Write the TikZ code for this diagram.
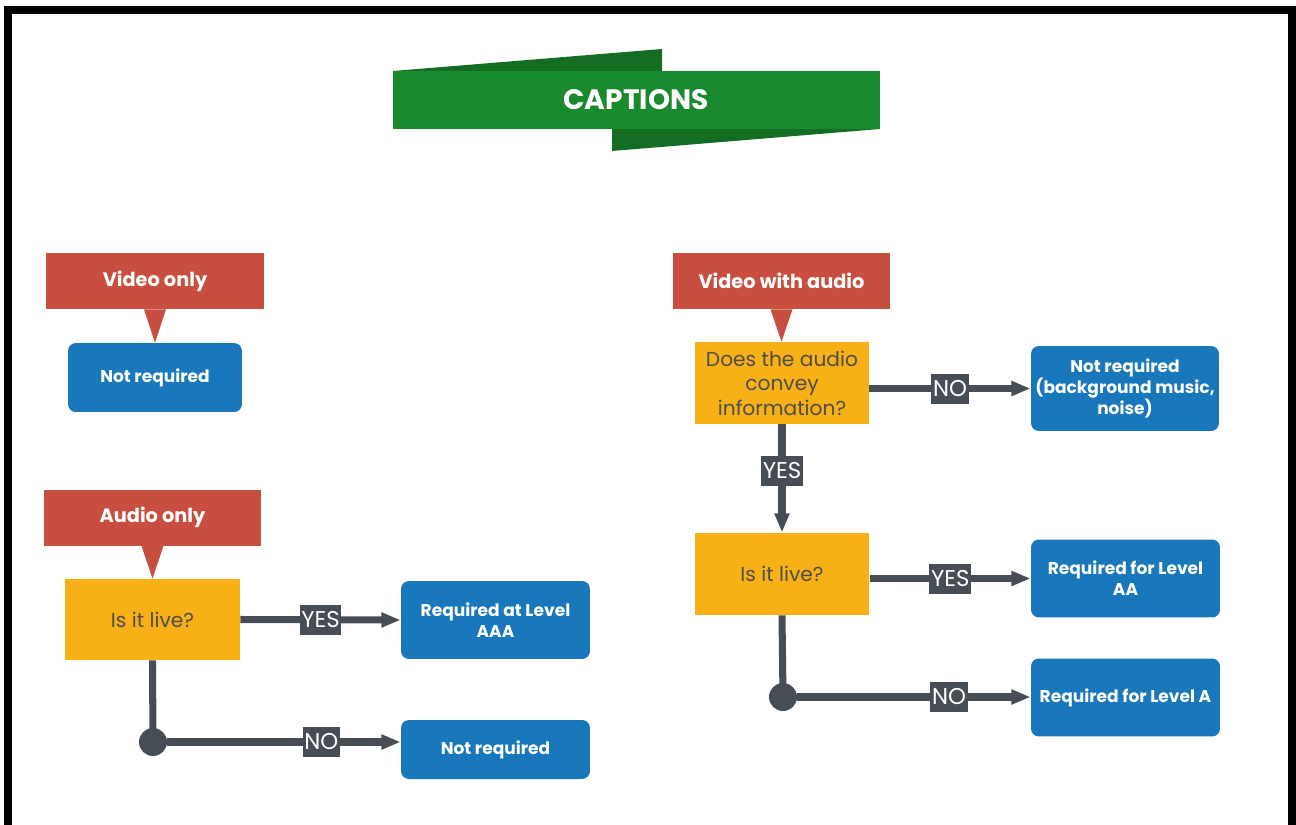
\documentclass[tikz,border=0pt]{standalone}
\usepackage{fontspec}
\setmainfont{Poppins}
\usetikzlibrary{arrows.meta}
\usetikzlibrary{positioning}

\definecolor{bannergreen}{HTML}{1A8A2E}
\definecolor{bannerdark}{HTML}{156D24}
\definecolor{labelred}{HTML}{C84F40}
\definecolor{askyellow}{HTML}{F7B016}
\definecolor{asktext}{HTML}{4D4D4D}
\definecolor{answerblue}{HTML}{1878BB}
\definecolor{flowgray}{HTML}{474D54}

\tikzset{
  redlabel/.style={fill=labelred, text=white, font=\bfseries\fontsize{11}{12}\selectfont,
    minimum width=4.36cm, minimum height=1.12cm, inner sep=0pt},
  question/.style={fill=askyellow, text=asktext, font=\fontsize{11.5}{14}\selectfont,
    align=center, inner sep=0pt},
  answer/.style={fill=answerblue, text=white, rounded corners=4.5pt,
    font=\bfseries\fontsize{9.7}{12}\selectfont, align=center, inner sep=0pt},
  trunk/.style={draw=flowgray, line width=4pt},
  flow/.style={trunk, -{Triangle[length=11pt, width=8pt]}},
  tag/.style={fill=flowgray, text=white, font=\fontsize{13}{14}\selectfont,
    inner xsep=1pt, inner ysep=0pt, minimum height=0.6cm},
  joint/.style={circle, fill=flowgray, minimum size=0.56cm, inner sep=0pt}
}

\begin{document}
\begin{tikzpicture}[x=0.02cm, y=-0.02cm]
    \useasboundingbox (0,0) rectangle (1296,825);
    % black frame, open at the bottom
    \draw[line width=4.5pt] (8,10) rectangle (1292,900);

    % title banner
    \fill[bannerdark] (393,71) -- (662,49) -- (662,71) -- cycle;
    \fill[bannerdark] (612,129) -- (612,151) -- (880,129) -- cycle;
    \fill[bannergreen] (393,71) rectangle (880,129);
    \node[text=white, font=\bfseries\fontsize{16}{18}\selectfont] (title) at (636,100) {CAPTIONS};

    % Video only
    \node[redlabel] (vo) at (155,281) {Video only};
    \node[answer, minimum width=3.48cm, minimum height=1.38cm] (vonr) at (155,377.5) {Not required};
    \fill[labelred] (vo.south) ++(-11,0) -- ++(22,0) -- (vo.south |- vonr.north) -- cycle;

    % Audio only
    \node[redlabel] (ao) at (152.5,517.5) {Audio only};
    \node[question, minimum width=3.5cm, minimum height=1.62cm] (aolive) at (152.5,619.5) {Is it live?};
    \fill[labelred] (ao.south) ++(-11,0) -- ++(22,0) -- (ao.south |- aolive.north) -- cycle;
    \node[answer, minimum width=3.78cm, minimum height=1.56cm] (aoyes) at (495.5,620) {Required at Level\\AAA};
    \node[answer, minimum width=3.78cm, minimum height=1.18cm] (aono) at (495.5,749.5) {Not required};
    \node[joint] (aodot) at (153,742) {};
    % yes / no branches
    \draw[flow] (aolive.east) -- (aoyes.west) node[midway, tag] {YES};
    \draw[trunk] (aolive.south) -- (aodot.center);
    \draw[flow] (aodot) -- (aono.west |- aodot) node[pos=0.66, tag] {NO};

    % Video with audio
    \node[redlabel] (va) at (781.5,281) {Video with audio};
    \node[question, minimum width=3.48cm, minimum height=1.64cm] (vainfo) at (782,383) {Does the audio\\convey\\information?};
    \fill[labelred] (va.south) ++(-11,0) -- ++(22,0) -- (va.south |- vainfo.north) -- cycle;
    \node[answer, minimum width=3.76cm, minimum height=1.7cm] (vanr) at (1125,388.5) {Not required\\(background music,\\noise)};
    \node[question, minimum width=3.5cm, minimum height=1.64cm] (valive) at (782,574) {Is it live?};
    \node[answer, minimum width=3.78cm, minimum height=1.56cm] (vaaa) at (1125.5,578.5) {Required for Level\\AA};
    \node[answer, minimum width=3.78cm, minimum height=1.56cm] (vaa) at (1125.5,697.5) {Required for Level A};
    \node[joint] (vadot) at (783,697) {};
    % branches
    \draw[flow] (vanr.west -| vainfo.east) -- (vanr.west) node[midway, tag] {NO};
    \draw[flow] (vainfo.south) -- (valive.north) node[pos=0.43, tag] {YES};
    \draw[flow] (vaaa.west -| valive.east) -- (vaaa.west) node[midway, tag] {YES};
    \draw[trunk] (valive.south) -- (vadot.center);
    \draw[flow] (vadot) -- (vaa.west |- vadot) node[pos=0.65, tag] {NO};
\end{tikzpicture}
\end{document}
